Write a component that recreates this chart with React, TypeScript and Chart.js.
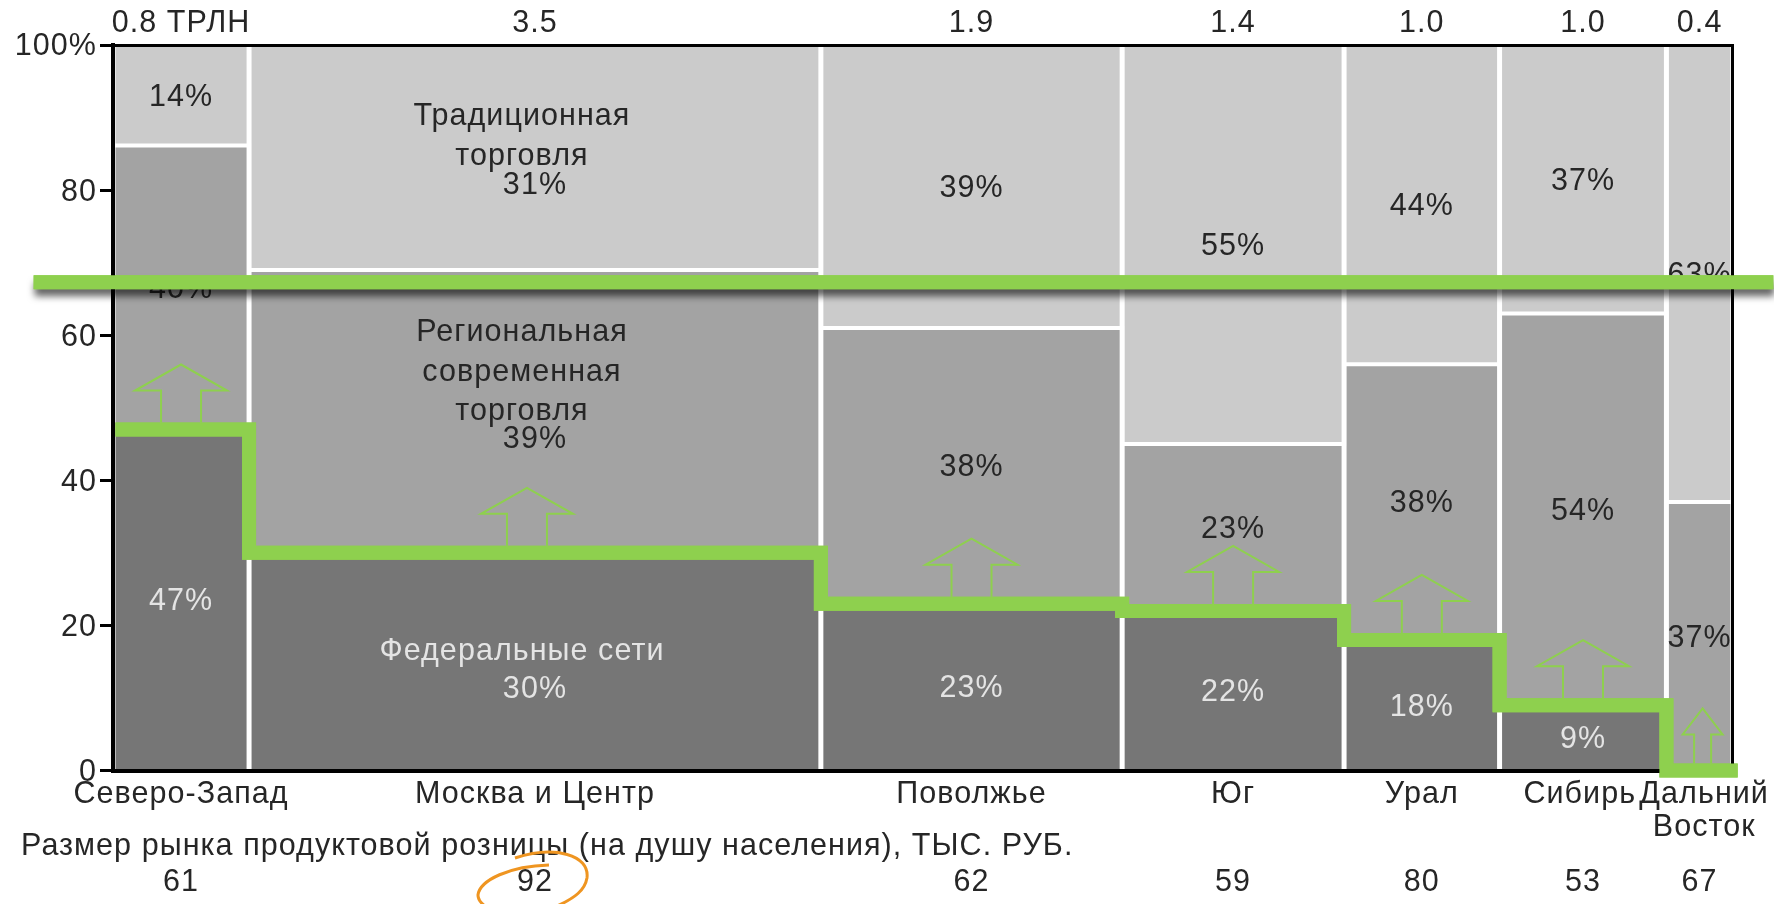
import React, { useEffect, useRef } from "react";
import { Chart, registerables } from "chart.js";

Chart.register(...registerables);

// Regions, left to right
const regions = ["Северо-Запад", "Москва и Центр", "Поволжье", "Юг", "Урал", "Сибирь", ["Дальний", "Восток"]];
// Market size in trillion roubles: sets each column's width
const marketSize = [0.84, 3.53, 1.86, 1.37, 0.96, 1.03, 0.41];
// Format shares per region, percent
const federalShare = [47, 30, 23, 22, 18, 9, 0];
const regionalShare = [40, 39, 38, 23, 38, 54, 37];
const traditionalShare = [14, 31, 39, 55, 44, 37, 63];
// Grocery retail per capita, thousand roubles
const perCapita = [61, 92, 62, 59, 80, 53, 67];
// Horizontal reference level and its span on the market-size axis
const targetLevel = 67.3;
const targetSpan = [-0.49, 10.25];
const stepLineEnd = 10.03;
// Small sideways shifts that keep the two rightmost region names apart
const regionLabelShift = [0, 0, 0, 0, 0, -0.02, 0.028];

const FONT = "'Liberation Sans', Arial, sans-serif";
const FONT_SIZE = 30.5;
const GREEN = "#8ed04e";
const TEXT = "#262626";
const LIGHT_TEXT = "#e4e4e4";

const sum = (a: number[]) => a.reduce((s, v) => s + v, 0);
const edges = marketSize.map((_, i) => sum(marketSize.slice(0, i)));
edges.push(sum(marketSize));
const mids = marketSize.map((_, i) => (edges[i] + edges[i + 1]) / 2);
// Rounded shares can total 101; the column's inner boundary is scaled back onto 100
const columnTotal = federalShare.map((v, i) => v + regionalShare[i] + traditionalShare[i]);
const regionalTop = federalShare.map((v, i) => ((v + regionalShare[i]) * 100) / Math.max(columnTotal[i], 100));
const fullTop = columnTotal.map(() => 100);

const stepped = (vals: number[]) => [
  ...vals.map((y, i) => ({ x: edges[i], y })),
  { x: edges[edges.length - 1], y: vals[vals.length - 1] },
];

const separators = edges.flatMap((x) => [
  { x, y: 0 },
  { x, y: 100 },
  { x, y: null as unknown as number },
]);

const baseLine = { pointRadius: 0, tension: 0, stepped: true as const };

const TARGET_INDEX = 4;
const STEP_INDEX = 5;

// Labels, arrows and the hand-drawn ring sit under the green lines
const annotations = {
  id: "annotations",
  beforeDraw(chart: any) {
    chart.ctx.letterSpacing = "1.05px";
  },
  beforeDatasetDraw(chart: any, args: any) {
    const { ctx } = chart;
    if (args.index === TARGET_INDEX) {
      ctx.save();
      ctx.shadowColor = "rgba(0,0,0,0.6)";
      ctx.shadowBlur = 7;
      ctx.shadowOffsetY = 7;
      ctx.shadowOffsetX = 1;
    }
    if (args.index !== STEP_INDEX) return;
    const x = chart.scales.x;
    const y = chart.scales.y;
    ctx.save();
    ctx.textAlign = "center";
    ctx.textBaseline = "middle";
    ctx.font = `${FONT_SIZE}px ${FONT}`;

    const label = (text: string, px: number, py: number, color: string) => {
      ctx.fillStyle = color;
      ctx.fillText(text, px, py + 2);
    };

    // The wide column shifts its percentages down to make room for format names
    const nudge = (i: number) => (i === 1 ? 26 : 0);
    mids.forEach((m, i) => {
      const px = x.getPixelForValue(m);
      label(`${traditionalShare[i]}%`, px, y.getPixelForValue((regionalTop[i] + fullTop[i]) / 2) + nudge(i), TEXT);
      label(`${regionalShare[i]}%`, px, y.getPixelForValue((federalShare[i] + regionalTop[i]) / 2) + nudge(i), TEXT);
      if (federalShare[i] > 0) {
        label(`${federalShare[i]}%`, px, y.getPixelForValue(federalShare[i] / 2) + nudge(i), LIGHT_TEXT);
      }
    });

    const nameX = x.getPixelForValue(mids[1]) - 13;
    label("Традиционная", nameX, 115, TEXT);
    label("торговля", nameX, 155, TEXT);
    label("Региональная", nameX, 331, TEXT);
    label("современная", nameX, 371, TEXT);
    label("торговля", nameX, 410, TEXT);
    label("Федеральные сети", nameX, 650, LIGHT_TEXT);

    // Per-capita row
    ctx.textAlign = "left";
    label("Размер рынка продуктовой розницы (на душу населения), ТЫС. РУБ.", 21, 845, TEXT);
    ctx.textAlign = "center";
    perCapita.forEach((v, i) => label(String(v), x.getPixelForValue(mids[i]), 881, TEXT));

    // Upward arrows standing on the federal-chain line
    ctx.strokeStyle = GREEN;
    ctx.lineWidth = 2;
    ctx.lineJoin = "miter";
    mids.forEach((m, i) => {
      const narrow = i === mids.length - 1;
      const cx = x.getPixelForValue(m) + (i === 1 ? -8 : narrow ? 3 : 0);
      const base = y.getPixelForValue(federalShare[i]) - 7;
      const head = narrow ? 20 : 46;
      const shaft = narrow ? 8.5 : 20;
      const neck = base - (narrow ? 29 : 32);
      const apex = base - (narrow ? 55 : 58);
      ctx.beginPath();
      ctx.moveTo(cx - shaft, base);
      ctx.lineTo(cx - shaft, neck);
      ctx.lineTo(cx - head, neck);
      ctx.lineTo(cx, apex);
      ctx.lineTo(cx + head, neck);
      ctx.lineTo(cx + shaft, neck);
      ctx.lineTo(cx + shaft, base);
      ctx.stroke();
    });

    // Hand-drawn ring around the highest per-capita figure
    const rx = x.getPixelForValue(mids[1]);
    ctx.strokeStyle = "#ef9521";
    ctx.lineWidth = 3;
    ctx.beginPath();
    ctx.moveTo(rx - 20, 858);
    ctx.bezierCurveTo(rx + 20, 845, rx + 55, 855, rx + 52, 878);
    ctx.bezierCurveTo(rx + 50, 890, rx + 40, 898, rx + 22, 906);
    ctx.stroke();
    ctx.beginPath();
    ctx.moveTo(rx + 14, 865);
    ctx.bezierCurveTo(rx - 25, 866, rx - 55, 880, rx - 57, 895);
    ctx.bezierCurveTo(rx - 57, 900, rx - 54, 903, rx - 50, 906);
    ctx.stroke();
    ctx.restore();
  },
  afterDatasetDraw(chart: any, args: any) {
    if (args.index === TARGET_INDEX) chart.ctx.restore();
  },
  // Green lines run over the axis frame
  afterDraw(chart: any) {
    [TARGET_INDEX, STEP_INDEX].forEach((i) => {
      chart.getDatasetMeta(i).dataset.draw(chart.ctx, chart.chartArea);
    });
  },
};

const fixedSize = (prop: "width" | "height", size: number) => (scale: any) => {
  scale[prop] = size;
};
const midTicks = (scale: any) => {
  scale.ticks = mids.map((value) => ({ value }));
};
const regionTicks = (scale: any) => {
  scale.ticks = mids.map((value, i) => ({ value: value + regionLabelShift[i] }));
};

export default function App() {
  const ref = useRef<HTMLCanvasElement>(null);

  useEffect(() => {
    if (!ref.current) return;
    const chart = new Chart(ref.current, {
      type: "line",
      data: {
        datasets: [
          { ...baseLine, label: "Традиционная торговля", data: stepped(fullTop), fill: "origin", backgroundColor: "#cbcbcb", borderWidth: 0, order: 9 },
          { ...baseLine, label: "Региональная современная торговля", data: stepped(regionalTop), fill: "origin", backgroundColor: "#a3a3a3", borderColor: "#ffffff", borderWidth: 4, order: 8 },
          { ...baseLine, label: "Федеральные сети", data: stepped(federalShare), fill: "origin", backgroundColor: "#767676", borderWidth: 0, order: 7 },
          { label: "Границы", data: separators, pointRadius: 0, borderColor: "#ffffff", borderWidth: 5, spanGaps: false, order: 6 },
          { label: "Уровень", data: targetSpan.map((x) => ({ x, y: targetLevel })), pointRadius: 0, borderColor: GREEN, borderWidth: 14, borderCapStyle: "butt", clip: false, order: 1 },
          {
            ...baseLine,
            label: "Доля федеральных сетей",
            data: [
              ...federalShare.map((y, i) => ({ x: i === 0 ? 0.015 : edges[i], y })),
              { x: stepLineEnd, y: 0 },
            ],
            borderColor: GREEN,
            borderWidth: 14,
            borderCapStyle: "butt",
            borderJoinStyle: "miter",
            clip: false,
            order: 2,
          },
        ],
      },
      options: {
        responsive: false,
        animation: false,
        events: [],
        layout: { padding: 0 },
        plugins: { legend: { display: false }, tooltip: { enabled: false } },
        scales: {
          x: {
            type: "linear",
            position: "bottom",
            min: 0,
            max: edges[edges.length - 1],
            afterBuildTicks: regionTicks,
            afterFit: fixedSize("height", 133.5),
            grid: { display: false, drawTicks: false },
            border: { display: true, color: "#000000", width: 4, z: 1 },
            ticks: {
              autoSkip: false,
              maxRotation: 0,
              minRotation: 0,
              padding: 8,
              color: TEXT,
              font: { family: FONT, size: FONT_SIZE, lineHeight: 1.08 },
              callback: (_v: any, i: number) => regions[i] as any,
            },
          },
          xTop: {
            type: "linear",
            position: "top",
            min: 0,
            max: edges[edges.length - 1],
            afterBuildTicks: midTicks,
            afterFit: fixedSize("height", 45),
            grid: { display: false, drawTicks: false },
            border: { display: true, color: "#000000", width: 3, z: 1 },
            ticks: {
              autoSkip: false,
              maxRotation: 0,
              minRotation: 0,
              padding: 3,
              color: TEXT,
              font: { family: FONT, size: FONT_SIZE },
              callback: (_v: any, i: number) => `${marketSize[i].toFixed(1)}${i === 0 ? " ТРЛН" : ""}`,
            },
          },
          y: {
            position: "left",
            min: 0,
            max: 100,
            afterFit: fixedSize("width", 113),
            grid: { drawOnChartArea: false, drawTicks: true, tickLength: 13, tickColor: "#000000", tickWidth: 3 },
            border: { display: true, color: "#000000", width: 4, z: 1 },
            ticks: {
              stepSize: 20,
              padding: 3,
              labelOffset: 2,
              color: TEXT,
              font: { family: FONT, size: FONT_SIZE },
              callback: (v: any) => (v === 100 ? "100%" : String(v)),
            },
          },
          yRight: {
            position: "right",
            min: 0,
            max: 100,
            afterFit: fixedSize("width", 40),
            grid: { display: false, drawTicks: false },
            border: { display: true, color: "#000000", width: 3, z: 1 },
            ticks: { display: false },
          },
        },
      },
      plugins: [annotations],
    } as any);
    return () => chart.destroy();
  }, []);

  return (
    <div style={{ position: "fixed", left: 0, top: 0, width: 1774, height: 904, background: "#ffffff" }}>
      <canvas ref={ref} width={1774} height={904} style={{ display: "block" }} />
    </div>
  );
}
